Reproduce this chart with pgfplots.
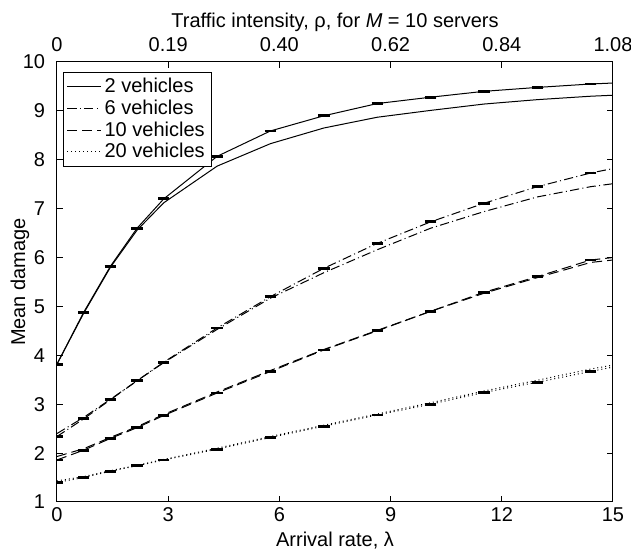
\documentclass[border=0pt]{standalone}
\usepackage{fontspec}
\setmainfont{Liberation Sans}
\usepackage{pgfplots}
\usepackage{pgfplotstable}
\pgfplotsset{compat=1.18}

\pgfplotstableread{
x     s2    a2    s6    a6    s10   a10   s20   a20
0     3.82  3.82  2.34  2.40  1.86  1.93  1.40  1.43
0.72  4.88  4.86  2.70  2.73  2.06  2.09  1.50  1.52
1.44  5.82  5.80  3.09  3.10  2.30  2.32  1.63  1.64
2.16  6.60  6.56  3.48  3.48  2.52  2.54  1.74  1.75
2.88  7.20  7.12  3.86  3.85  2.77  2.79  1.86  1.87
4.32  8.07  7.87  4.56  4.53  3.23  3.25  2.08  2.10
5.76  8.59  8.33  5.20  5.17  3.67  3.69  2.32  2.34
7.20  8.90  8.65  5.78  5.69  4.11  4.12  2.55  2.57
8.64  9.15  8.87  6.29  6.16  4.50  4.51  2.78  2.80
10.08 9.28  9.01  6.73  6.60  4.90  4.90  3.00  3.03
11.52 9.40  9.14  7.11  6.94  5.29  5.27  3.24  3.27
12.96 9.48  9.23  7.45  7.24  5.61  5.59  3.45  3.49
14.40 9.55  9.30  7.73  7.45  5.95  5.90  3.67  3.72
15    9.57  9.32  7.82  7.51  6.00  5.95  3.76  3.80
}\data

\tikzset{
  sdash/.style={dash pattern=on 6pt off 3pt},
  sdashdot/.style={dash pattern=on 5.5pt off 2pt on 0.6pt off 2pt},
  sdot/.style={dash pattern=on 0.6pt off 1.8pt},
}

\pgfplotsset{
  errb/.style={draw=none, mark=none, forget plot,
    skip coords between index={13}{14},
    error bars/.cd, y dir=both, y fixed=0.012,
    error bar style={draw=black, solid, line width=0.6pt},
    error mark options={draw=black, solid, rotate=90, mark size=3.4pt, line width=1pt}},
}

\begin{document}
\begin{tikzpicture}[font=\fontsize{12}{14}\selectfont]
\begin{axis}[
  name=main,
  scale only axis, width=333.6pt, height=264pt,
  xmin=0, xmax=15, ymin=1, ymax=10,
  xtick={0,3,...,15}, ytick={1,...,10},
  xtick pos=bottom, ytick pos=both, yticklabel pos=left,
  tick align=inside, major tick length=3.5pt,
  /pgf/number format/assume math mode=true,
  axis line style={line width=0.6pt},
  every tick/.style={black, line width=0.6pt},
  xlabel={Arrival rate, λ}, ylabel={Mean damage},
  xticklabel style={anchor=center, yshift=-7.8pt},
  xlabel style={at={(axis description cs:0.5,0)}, anchor=center, yshift=-23.4pt},
  yticklabel style={anchor=east, xshift=-3.6pt},
  ylabel style={at={(axis description cs:0,0.5)}, anchor=center, rotate=0, yshift=22.2pt},
  legend cell align=left,
  legend style={at={(0.011,0.977)}, anchor=north west, draw=black, line width=0.6pt,
    inner xsep=2pt, inner ysep=1.5pt, row sep=-1.2pt,
    font=\fontsize{12}{14}\selectfont,
    nodes={inner sep=2pt}},
  legend image code/.code={\draw[#1, line width=0.6pt] (0pt,0pt) -- (20pt,0pt);},
]
\addplot[black, line width=0.6pt] table[x=x, y=s2] {\data};
\addlegendentry{2 vehicles}
\addplot[black, line width=0.6pt, sdashdot] table[x=x, y=s6] {\data};
\addlegendentry{6 vehicles}
\addplot[black, line width=0.6pt, sdash] table[x=x, y=s10] {\data};
\addlegendentry{10 vehicles}
\addplot[black, line width=0.6pt, sdot] table[x=x, y=s20] {\data};
\addlegendentry{20 vehicles}

\addplot[black, line width=0.6pt, forget plot] table[x=x, y=a2] {\data};
\addplot[black, line width=0.6pt, sdashdot, forget plot] table[x=x, y=a6] {\data};
\addplot[black, line width=0.6pt, sdash, forget plot] table[x=x, y=a10] {\data};
\addplot[black, line width=0.6pt, sdot, forget plot] table[x=x, y=a20] {\data};

\addplot[errb] table[x=x, y=s2] {\data};
\addplot[errb] table[x=x, y=s6] {\data};
\addplot[errb] table[x=x, y=s10] {\data};
\addplot[errb] table[x=x, y=s20] {\data};
\end{axis}
\begin{axis}[
  scale only axis, width=333.6pt, height=264pt,
  xmin=0, xmax=15, ymin=1, ymax=10,
  axis x line*=top, axis y line=none,
  xtick={0,3,...,15}, xticklabels={0,0.19,0.40,0.62,0.84,1.08},
  tick align=inside, major tick length=3.5pt,
  axis line style={line width=0.6pt},
  every tick/.style={black, line width=0.6pt},
  xlabel={Traffic intensity, ρ, for \textit{M} = 10 servers},
  xticklabel style={anchor=center, yshift=10.2pt},
  xlabel style={at={(axis description cs:0.5,1)}, anchor=center, yshift=24pt},
]
\end{axis}
\pgfresetboundingbox
\path ([shift={(-34.2pt,-30.6pt)}]main.south west) rectangle ([shift={(10.8pt,37.2pt)}]main.north east);
\end{tikzpicture}
\end{document}
